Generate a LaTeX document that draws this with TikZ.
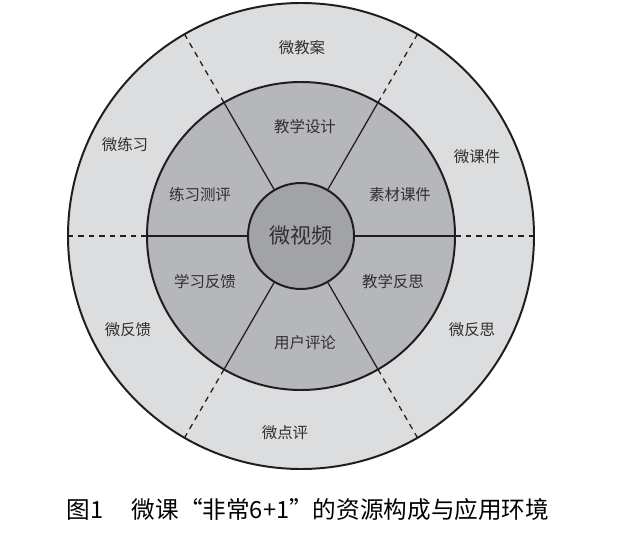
\documentclass[tikz,border=0pt]{standalone}
\usepackage{fontspec}
\usepackage{xcolor}
\usepackage{tikz}
\newfontfamily\cjk{Noto Sans CJK SC}
\definecolor{Ink}{HTML}{1E1E1E}
\definecolor{TextGray}{HTML}{303030}
\definecolor{RimGray}{HTML}{DCDDDF}
\definecolor{RingGray}{HTML}{B6B7BA}
\definecolor{CoreGray}{HTML}{A2A3A6}
\tikzset{
  discnode/.style={circle, draw=Ink, line width=1.4pt, inner sep=0pt, outer sep=0pt},
  solidline/.style={draw=Ink, line width=0.9pt},
  dashline/.style={draw=Ink, line width=0.9pt, dash pattern=on 4pt off 3.5pt},
  ringlabel/.style={font=\cjk\fontsize{11}{13}\selectfont, text=TextGray},
  captionlabel/.style={font=\cjk\fontsize{16.8}{19}\selectfont, text=black},
}

\begin{document}
\begin{tikzpicture}[x=1cm,y=1cm]
\path[use as bounding box] (0,0) rectangle (15.525,13.325);
\fill[white] (0,0) rectangle (15.525,13.325);

% three discs
\node[discnode,fill=RimGray,minimum size=11.65cm] (rim) at (7.525,7.425) {};
\node[discnode,fill=RingGray,minimum size=7.7cm] (ring) at (7.525,7.425) {};
\node[discnode,fill=CoreGray,minimum size=2.65cm,font=\cjk\fontsize{15}{17}\selectfont,text=TextGray] (core) at (7.525,7.425) {微视频};

% sector borders
\draw[solidline] (core.0) -- (ring.0);
\draw[solidline] (core.60) -- (ring.60);
\draw[solidline] (core.120) -- (ring.120);
\draw[solidline] (core.180) -- (ring.180);
\draw[solidline] (core.240) -- (ring.240);
\draw[solidline] (core.300) -- (ring.300);
\draw[dashline] (ring.0) -- (rim.0);
\draw[dashline] (ring.60) -- (rim.60);
\draw[dashline] (ring.120) -- (rim.120);
\draw[dashline] (ring.180) -- (rim.180);
\draw[dashline] (ring.240) -- (rim.240);
\draw[dashline] (ring.300) -- (rim.300);

% middle ring
\node[ringlabel] (design) at (7.625,10.15) {教学设计};
\node[ringlabel] (material) at (10.0,8.45) {素材课件};
\node[ringlabel] (reflect) at (9.825,6.275) {教学反思};
\node[ringlabel] (comment) at (7.625,4.75) {用户评论};
\node[ringlabel] (feedback) at (5.125,6.275) {学习反馈};
\node[ringlabel] (exercise) at (5.0,8.45) {练习测评};

% outer ring
\node[ringlabel] (plan) at (7.55,12.125) {微教案};
\node[ringlabel] (slides) at (11.925,9.4) {微课件};
\node[ringlabel] (mreflect) at (11.8,5.075) {微反思};
\node[ringlabel] (review) at (7.125,2.5) {微点评};
\node[ringlabel] (mfeedback) at (3.2,5.075) {微反馈};
\node[ringlabel] (practice) at (3.125,9.7) {微练习};

\node[captionlabel] (caption) at (7.7,0.575) {图1\hspace{1.2em}微课“非常6+1”的资源构成与应用环境};
\end{tikzpicture}
\end{document}
